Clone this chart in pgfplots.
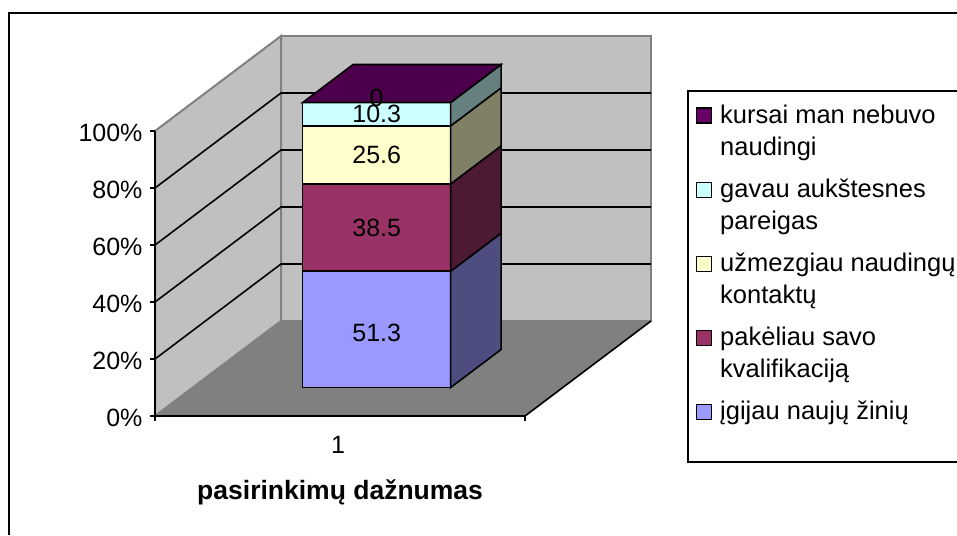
\documentclass[border=0pt]{standalone}
\usepackage{fontspec}
\setmainfont{Liberation Sans}
\usepackage{pgfplots}
\pgfplotsset{compat=1.18}

\definecolor{wall}{HTML}{C0C0C0}
\definecolor{floorc}{HTML}{808080}
\definecolor{sA}{HTML}{9999FF}
\definecolor{sB}{HTML}{993366}
\definecolor{sC}{HTML}{FFFFCC}
\definecolor{sD}{HTML}{CCFFFF}
\definecolor{sE}{HTML}{660066}
\definecolor{sAd}{HTML}{4D4D80}
\definecolor{sBd}{HTML}{4D1A33}
\definecolor{sCd}{HTML}{808066}
\definecolor{sDd}{HTML}{668080}
\definecolor{sEd}{HTML}{4C004C}

% one stacked block: #1 bottom %, #2 top %, #3 front colour, #4 side colour
\newcommand{\segment}[4]{
  \addplot3[fill=#3,draw=black,line width=1.6pt,forget plot] coordinates {(0.797,0.3,#1)(1.197,0.3,#1)(1.197,0.3,#2)(0.797,0.3,#2)} -- cycle;
  \addplot3[fill=#4,draw=black,line width=1.6pt,forget plot] coordinates {(1.197,0.3,#1)(1.197,0.7,#1)(1.197,0.7,#2)(1.197,0.3,#2)} -- cycle;
}
\newcommand{\lent}[1]{\hspace*{6pt}\parbox[t]{270pt}{\raggedright #1}}

\pgfplotstableread{
x y z lab
0.997 0.3 19.0 51.3
0.997 0.3 56.1 38.5
0.997 0.3 81.6 25.6
0.997 0.3 95.9 10.3
0.997 0.3 101.5 0
}\barlabels

\begin{document}
\begin{tikzpicture}[x=1pt,y=1pt]
\path[use as bounding box] (0,0) rectangle (957,535);
\draw[line width=2pt] (9,0) -- (9,522) -- (957,522);
\draw[line width=1.6pt] (957,444) -- (688,444) -- (688,73) -- (957,73);
\begin{axis}[
    at={(155pt,119pt)}, anchor=origin,
    x={(370pt,0pt)}, y={(126pt,95pt)}, z={(0pt,2.85pt)},
    xmin=0.5, xmax=1.5, ymin=0, ymax=1, zmin=0, zmax=100,
    clip=false, axis on top,
    axis lines*=left,
    y axis line style={draw=none},
    x axis line style={line width=2pt},
    z axis line style={line width=2pt},
    major tick length=0pt,
    ytick=\empty,
    xtick={1}, xticklabels={1},
    ztick={0,20,...,100},
    zticklabel={\pgfmathprintnumber{\tick}\%},
    /pgf/number format/assume math mode=true,
    tick label style={font=\fontsize{25}{30}\selectfont},
    x tick label style={yshift=-17pt,xshift=4pt},
    z tick label style={anchor=east,xshift=-9pt,yshift=-2pt},
    xlabel={pasirinkimų dažnumas},
    xlabel style={font=\bfseries\fontsize{26.5}{30}\selectfont,yshift=-22pt,xshift=27pt},
    legend style={draw=none,fill=none,at={(1.09,0.825)},anchor=north west,
      cells={anchor=base west},row sep=50pt,inner sep=0pt,
      font=\fontsize{25.5}{32}\selectfont},
    legend image code/.code={\draw[#1,line width=1.4pt] (0pt,0pt) rectangle (15pt,15pt);},
  ]
  % walls and floor
  \addplot3[fill=wall,draw=floorc,line width=2pt,forget plot] coordinates {(0.5,1,0)(1.5,1,0)(1.5,1,100)(0.5,1,100)} -- cycle;
  \addplot3[fill=wall,draw=floorc,line width=2pt,forget plot] coordinates {(0.5,0,0)(0.5,1,0)(0.5,1,100)(0.5,0,100)} -- cycle;
  \addplot3[fill=floorc,draw=floorc,line width=1pt,forget plot] coordinates {(0.5,0,0)(1.5,0,0)(1.5,1,0)(0.5,1,0)} -- cycle;
  \addplot3[black,line width=1.6pt,forget plot] coordinates {(1.5,0,0)(1.5,1,0)};
  % gridlines
  \pgfplotsinvokeforeach{20,40,60,80}{
    \addplot3[black,line width=1.6pt,forget plot] coordinates {(0.5,0,#1)(0.5,1,#1)(1.5,1,#1)};
  }
  % horizontal tick marks on the z axis, vertical ones on the x axis
  \pgfplotsinvokeforeach{0,20,40,60,80,100}{
    \addplot3[black,line width=1.6pt,forget plot] coordinates {(0.4865,0,#1)(0.5,0,#1)};
  }
  \addplot3[black,line width=1.6pt,forget plot] coordinates {(0.5,0,0)(0.5,0,-1.9)};
  \addplot3[black,line width=1.6pt,forget plot] coordinates {(1.5,0,0)(1.5,0,-1.9)};
  % stacked bar, values as cumulative share of 125.7
  \segment{0}{40.81}{sA}{sAd}
  \segment{40.81}{71.44}{sB}{sBd}
  \segment{71.44}{91.81}{sC}{sCd}
  \segment{91.81}{100}{sD}{sDd}
  \addplot3[fill=sEd,draw=black,line width=1.6pt,forget plot] coordinates {(0.797,0.3,100)(1.197,0.3,100)(1.197,0.7,100)(0.797,0.7,100)} -- cycle;
  % value labels
  \addplot3[draw=none,mark=none,forget plot,point meta=explicit symbolic,
    nodes near coords,
    every node near coord/.append style={anchor=center,font=\fontsize{25}{30}\selectfont,inner sep=0pt}]
    table[x=x,y=y,z=z,meta=lab] {\barlabels};
  % legend
  \addlegendimage{fill=sE,draw=black}
  \addlegendentry{\lent{kursai man nebuvo\\naudingi}}
  \addlegendimage{fill=sD,draw=black}
  \addlegendentry{\lent{gavau aukštesnes\\pareigas}}
  \addlegendimage{fill=sC,draw=black}
  \addlegendentry{\lent{užmezgiau naudingų\\kontaktų}}
  \addlegendimage{fill=sB,draw=black}
  \addlegendentry{\lent{pakėliau savo\\kvalifikaciją}}
  \addlegendimage{fill=sA,draw=black}
  \addlegendentry{\lent{įgijau naujų žinių}}
\end{axis}
\end{tikzpicture}
\end{document}
